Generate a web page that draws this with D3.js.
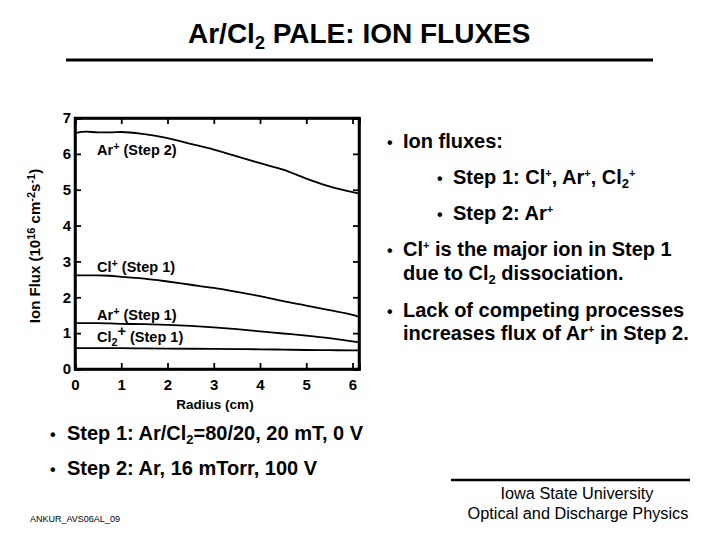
<!DOCTYPE html>
<html><head><meta charset="utf-8">
<script src="https://cdn.jsdelivr.net/npm/d3@7"></script>
<style>body{margin:0;background:#fff}svg{display:block}text{font-family:"Liberation Sans",Arial,sans-serif;fill:#000}</style>
</head><body><svg id="c" width="720" height="540"></svg>
<script>
const radius = [0,0.25,0.5,0.75,1,1.5,2,2.5,3,3.5,4,4.5,5,5.5,6,6.15];
const arStep2 = [6.58,6.62,6.60,6.60,6.61,6.55,6.44,6.28,6.12,5.93,5.74,5.56,5.31,5.09,4.93,4.89];
const clStep1 = [2.61,2.61,2.61,2.60,2.57,2.52,2.44,2.35,2.26,2.15,2.03,1.89,1.77,1.64,1.51,1.45];
const arStep1 = [1.28,1.28,1.28,1.27,1.26,1.25,1.23,1.20,1.16,1.11,1.05,0.99,0.93,0.86,0.77,0.74];
const cl2Step1 = [0.58,0.58,0.58,0.58,0.58,0.575,0.57,0.565,0.56,0.555,0.55,0.54,0.53,0.525,0.52,0.52];
const xTicks = [0,1,2,3,4,5,6];
const yTicks = [0,1,2,3,4,5,6,7];

const svg = d3.select("#c");
const x = d3.scaleLinear().domain([0,6.14]).range([75,359]);
const y = d3.scaleLinear().domain([0,7]).range([369,118]);

// Title
const t = svg.append("text").attr("x",188).attr("y",43).style("font-size","28px").style("font-weight","bold");
t.append("tspan").text("Ar/Cl");
t.append("tspan").text("2").attr("dy",6).style("font-size","18px");
t.append("tspan").text(" PALE: ION FLUXES").attr("dy",-6);
svg.append("line").attr("x1",66).attr("x2",653).attr("y1",60).attr("y2",60).attr("stroke","#000").attr("stroke-width",3);

// axes
const g = svg.append("g");
const tickLen = 6;
g.append("g").attr("transform","translate(0,369)").call(d3.axisBottom(x).tickValues(xTicks).tickSize(-tickLen).tickPadding(10).tickFormat(d3.format("d")));
g.append("g").attr("transform","translate(0,118)").call(d3.axisTop(x).tickValues(xTicks).tickSize(-tickLen).tickFormat(""));
g.append("g").attr("transform","translate(75,0)").call(d3.axisLeft(y).tickValues(yTicks).tickSize(-tickLen).tickPadding(4).tickFormat(d3.format("d")));
g.append("g").attr("transform","translate(359,0)").call(d3.axisRight(y).tickValues(yTicks).tickSize(-tickLen).tickFormat(""));
g.selectAll(".domain").attr("stroke","#000").attr("stroke-width",2.5);
g.selectAll(".tick line").attr("stroke","#000").attr("stroke-width",1.8);
g.selectAll(".tick text").style("font-size","15px").style("font-weight","bold").attr("fill","#000").style("font-family","'Liberation Sans',Arial,sans-serif");
svg.append("rect").attr("x",75).attr("y",118).attr("width",284).attr("height",251).attr("fill","none").attr("stroke","#000").attr("stroke-width",2.5);

// curves
const line = d3.line().x((d,i)=>x(radius[i])).y(d=>y(d)).curve(d3.curveMonotoneX);
[arStep2,clStep1,arStep1,cl2Step1].forEach(s=>{
  svg.append("path").attr("d",line(s)).attr("fill","none").attr("stroke","#000").attr("stroke-width",1.8);
});

// curve labels
function lab(xp,yp,parts,size){
  const tx = svg.append("text").attr("x",xp).attr("y",yp).style("font-size",size+"px").style("font-weight","bold");
  parts.forEach(p=>{
    const ts = tx.append("tspan").text(p[0]);
    if(p[1]==="sup") ts.attr("dy",-5).style("font-size",(size*0.75)+"px");
    else if(p[1]==="sub") ts.attr("dy",4).style("font-size",(size*0.75)+"px");
    else if(p[1]==="back") ts.attr("dy",p[2]);
  });
  return tx;
}
lab(97,155,[["Ar"],["+","sup"],[" (Step 2)","back",5]],14.5);
lab(97,272,[["Cl"],["+","sup"],[" (Step 1)","back",5]],14.5);
lab(97,320,[["Ar"],["+","sup"],[" (Step 1)","back",5]],14.5);
lab(97,342,[["Cl"],["2","sub"],["+","back",-10],[" (Step 1)","back",6]],14.5);

// axis titles
svg.append("text").attr("x",215).attr("y",409).attr("text-anchor","middle").style("font-size","13.5px").style("font-weight","bold").text("Radius (cm)");
const yt = svg.append("text").attr("transform","translate(40,246) rotate(-90)").attr("text-anchor","middle").style("font-size","15px").style("font-weight","bold");
yt.append("tspan").text("Ion Flux (10");
yt.append("tspan").text("16").attr("dy",-5).style("font-size","11px");
yt.append("tspan").text(" cm").attr("dy",5);
yt.append("tspan").text("-2").attr("dy",-5).style("font-size","11px");
yt.append("tspan").text("s").attr("dy",5);
yt.append("tspan").text("-1").attr("dy",-5).style("font-size","11px");
yt.append("tspan").text(")").attr("dy",5);

// right bullets
function bullet(bx,tx,yp,parts,size){
  svg.append("text").attr("x",bx).attr("y",yp).style("font-size",(size*0.8)+"px").style("font-weight","bold").text("•");
  const te = svg.append("text").attr("x",tx).attr("y",yp).style("font-size",size+"px").style("font-weight","bold");
  parts.forEach(p=>{
    const ts = te.append("tspan").text(p[0]);
    if(p[1]) ts.attr("dy",p[1]);
    if(p[2]) ts.style("font-size",p[2]+"px");
  });
}
function plain(tx,yp,parts,size){
  const te = svg.append("text").attr("x",tx).attr("y",yp).style("font-size",size+"px").style("font-weight","bold");
  parts.forEach(p=>{
    const ts = te.append("tspan").text(p[0]);
    if(p[1]) ts.attr("dy",p[1]);
    if(p[2]) ts.style("font-size",p[2]+"px");
  });
}
bullet(387,403,148,[["Ion fluxes:"]],20);
bullet(437,453,184,[["Step 1: Cl"],["+",-7,11],[", Ar",7],["+",-7,11],[", Cl",7],["2",4,13],["+",-11,11]],20);
bullet(437,453,220,[["Step 2: Ar"],["+",-7,11]],20);
bullet(387,403,256,[["Cl"],["+",-7,11],[" is the major ion in Step 1",7]],20);
plain(403,280,[["due to Cl"],["2",4,13],[" dissociation.",-4]],20);
bullet(387,403,317,[["Lack of competing processes"]],20);
plain(403,340,[["increases flux of Ar"],["+",-7,11],[" in Step 2.",7]],20);

// bottom left
bullet(50,67,440,[["Step 1: Ar/Cl"],["2",4,13],["=80/20, 20 mT, 0 V",-4]],20);
bullet(50,67,475,[["Step 2: Ar, 16 mTorr, 100 V"]],20);
svg.append("text").attr("x",30).attr("y",522).style("font-size","9px").text("ANKUR_AVS06AL_09");

// bottom right
svg.append("line").attr("x1",451).attr("x2",690).attr("y1",480).attr("y2",480).attr("stroke","#000").attr("stroke-width",2.5);
svg.append("text").attr("x",577).attr("y",499).attr("text-anchor","middle").style("font-size","16.3px").text("Iowa State University");
svg.append("text").attr("x",578).attr("y",519).attr("text-anchor","middle").style("font-size","16.3px").text("Optical and Discharge Physics");
</script></body></html>
